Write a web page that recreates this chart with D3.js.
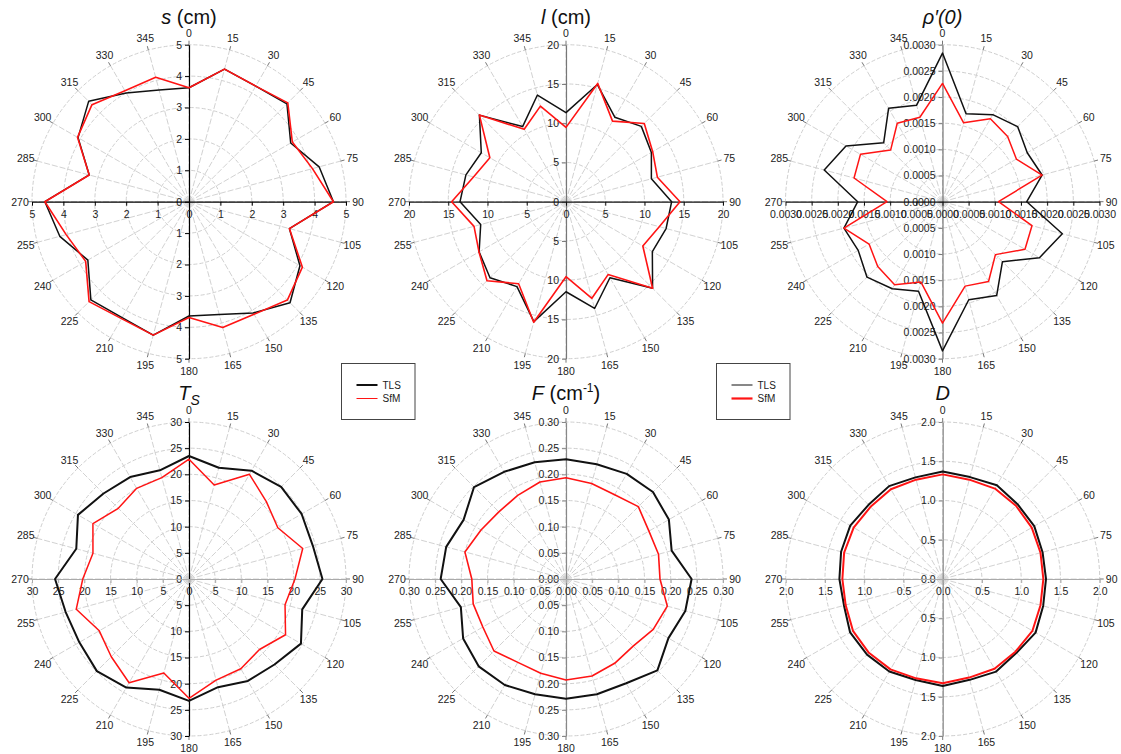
<!DOCTYPE html>
<html>
<head>
<meta charset="utf-8">
<script src="https://cdnjs.cloudflare.com/ajax/libs/d3/7.8.5/d3.min.js"></script>
<style>
  html, body { margin: 0; padding: 0; background: #fff; }
  svg { display: block; font-family: "Liberation Sans", Arial, sans-serif; }
</style>
</head>
<body>
<svg id="chart" width="1121" height="754"></svg>
<script>
// Azimuth of each measurement (degrees, clockwise from north)
const angles = [0, 15, 30, 45, 60, 75, 90, 105, 120, 135, 150, 165,
                180, 195, 210, 225, 240, 255, 270, 285, 300, 315, 330, 345];

// s (cm)
const sTLS = [3.63, 4.37, 4.25, 4.41, 3.74, 4.29, 4.6, 3.31, 4.08, 4.55, 4.09, 3.72,
              3.64, 4.4, 4.26, 4.42, 3.72, 4.26, 4.59, 3.29, 4.08, 4.52, 4.0, 3.68];
const sSfM = [3.63, 4.37, 4.25, 4.45, 3.8, 4.07, 4.6, 3.31, 4.17, 4.43, 4.14, 4.15,
              3.69, 4.4, 4.3, 4.5, 3.8, 4.05, 4.59, 3.29, 4.1, 4.37, 4.08, 4.1];
const sTicks = [0, 1, 2, 3, 4, 5];

// l (cm)
const lTLS = [11.34, 15.45, 12.43, 13.57, 12.56, 11.26, 13.46, 13.2, 12.7, 15.6, 11.19, 14.08,
              11.47, 15.82, 12.49, 13.69, 12.78, 11.25, 13.5, 13.2, 12.46, 15.6, 11.05, 14.07];
const lSfM = [9.47, 15.6, 11.85, 14.1, 12.75, 12.05, 14.52, 12.3, 11.3, 15.6, 10.72, 12.74,
              9.55, 15.9, 12.07, 14.23, 12.8, 12.13, 14.57, 12.2, 11.2, 15.6, 10.65, 12.6];
const lTicks = [0, 5, 10, 15, 20];

// rho'(0)
const rhoTLS = [0.00284, 0.00174, 0.00192, 0.00203, 0.00187, 0.00197, 0.00161, 0.00237,
                0.00214, 0.00162, 0.00207, 0.00194, 0.00285, 0.00177, 0.00192, 0.00204,
                0.00186, 0.00195, 0.00162, 0.00234, 0.00213, 0.00159, 0.00206, 0.00191];
const rhoSfM = [0.00226, 0.00156, 0.00183, 0.00176, 0.00163, 0.00197, 0.00107, 0.00177,
                0.00182, 0.00143, 0.00176, 0.00167, 0.00232, 0.00159, 0.00183, 0.00175,
                0.00162, 0.00195, 0.00106, 0.00175, 0.00181, 0.0014, 0.00173, 0.00167];
const rhoTicks = [0, 0.0005, 0.001, 0.0015, 0.002, 0.0025, 0.003];

// T_S
const tsTLS = [23.5, 22.0, 23.9, 24.9, 24.85, 24.5, 25.5, 22.4, 24.7, 23.1, 22.5, 21.4,
               23.3, 21.9, 23.95, 24.9, 24.2, 24.4, 25.6, 22.3, 24.5, 23.1, 22.5, 21.5];
const tsSfM = [22.9, 18.6, 23.1, 20.9, 19.6, 22.5, 20.25, 19.0, 21.3, 19.05, 19.8, 20.0,
               22.8, 18.6, 22.9, 21.0, 19.8, 22.3, 20.3, 19.0, 21.2, 19.1, 20.0, 20.05];
const tsTicks = [0, 5, 10, 15, 20, 25, 30];

// F (cm^-1)
const fTLS = [0.229, 0.227, 0.232, 0.235, 0.227, 0.209, 0.240, 0.236, 0.226, 0.247, 0.230, 0.228,
              0.229, 0.228, 0.234, 0.236, 0.227, 0.208, 0.2395, 0.237, 0.226, 0.2485, 0.2365, 0.231];
const fSfM = [0.1936, 0.189, 0.186, 0.1955, 0.183, 0.183, 0.1796, 0.2004, 0.1925, 0.1815, 0.186, 0.192,
              0.193, 0.1866, 0.184, 0.1946, 0.1835, 0.1836, 0.180, 0.200, 0.1875, 0.1815, 0.1845, 0.192];
const fTicks = [0, 0.05, 0.1, 0.15, 0.2, 0.25, 0.3];

// D
const dTLS = [1.37, 1.344, 1.38, 1.348, 1.347, 1.317, 1.316, 1.325, 1.366, 1.33, 1.362, 1.33,
              1.363, 1.332, 1.36, 1.363, 1.362, 1.302, 1.316, 1.34, 1.36, 1.336, 1.366, 1.34];
const dSfM = [1.333, 1.31, 1.33, 1.32, 1.31, 1.29, 1.282, 1.29, 1.32, 1.31, 1.32, 1.30,
              1.329, 1.31, 1.33, 1.33, 1.32, 1.28, 1.278, 1.30, 1.31, 1.30, 1.32, 1.31];
const dTicks = [0, 0.5, 1, 1.5, 2];

const seriesNames = ["TLS", "SfM"];

const svg = d3.select("#chart");
const R = 157;
const TXT = "#222";

const panels = [
  { cx: 189,   cy: 201.7, ticks: sTicks,   fmt: d3.format("d"),   tls: sTLS,   sfm: sSfM,   title: "s",   wT: 1.5, wS: 1.6, vC: "#000", hC: "#000" },
  { cx: 566,   cy: 201.7, ticks: lTicks,   fmt: d3.format("d"),   tls: lTLS,   sfm: lSfM,   title: "l",   wT: 1.5, wS: 1.6, vC: "#777", hC: "#111" },
  { cx: 942.5, cy: 201.7, ticks: rhoTicks, fmt: d3.format(".4f"), tls: rhoTLS, sfm: rhoSfM, title: "rho", wT: 1.5, wS: 1.5, vC: "#777", hC: "#111" },
  { cx: 189,   cy: 579,   ticks: tsTicks,  fmt: d3.format("d"),   tls: tsTLS,  sfm: tsSfM,  title: "ts",  wT: 2,   wS: 1.5, vC: "#000", hC: "#aaa" },
  { cx: 566,   cy: 579,   ticks: fTicks,   fmt: d3.format(".2f"), tls: fTLS,   sfm: fSfM,   title: "F",   wT: 2,   wS: 1.6, vC: "#888", hC: "#aaa" },
  { cx: 942.7, cy: 579,   ticks: dTicks,   fmt: d3.format(".1f"), tls: dTLS,   sfm: dSfM,   title: "D",   wT: 2,   wS: 2,   vC: "#888", hC: "#aaa" }
];

panels.forEach(p => {
  const max = d3.max(p.ticks);
  const r = d3.scaleLinear().domain([0, max]).range([0, R]);
  const g = svg.append("g").attr("transform", `translate(${p.cx},${p.cy})`);

  // concentric rings
  g.selectAll("circle.ring").data(p.ticks.filter(t => t > 0)).join("circle")
    .attr("r", d => r(d)).attr("fill", "none")
    .attr("stroke", "#cfcfcf").attr("stroke-width", 1).attr("stroke-dasharray", "4,2");

  // radial spokes with a short tick past the outer ring
  const rad = a => a * Math.PI / 180;
  g.selectAll("line.spoke").data(angles).join("line")
    .attr("x1", 0).attr("y1", 0)
    .attr("x2", a => Math.sin(rad(a)) * R).attr("y2", a => -Math.cos(rad(a)) * R)
    .attr("stroke", "#d2d2d2").attr("stroke-width", 1).attr("stroke-dasharray", "6,2");
  g.selectAll("line.otick").data(angles).join("line")
    .attr("x1", a => Math.sin(rad(a)) * R).attr("y1", a => -Math.cos(rad(a)) * R)
    .attr("x2", a => Math.sin(rad(a)) * (R + 4)).attr("y2", a => -Math.cos(rad(a)) * (R + 4))
    .attr("stroke", "#777").attr("stroke-width", 1);

  // azimuth labels
  g.selectAll("text.ang").data(angles).join("text")
    .attr("x", a => Math.sin(rad(a)) * 169).attr("y", a => -Math.cos(rad(a)) * 169)
    .attr("text-anchor", "middle").attr("dominant-baseline", "central")
    .attr("font-size", 10.5).attr("fill", TXT).text(a => a);

  // axes through the centre: magnitudes on both sides of the origin
  const up = d3.scaleLinear().domain([0, max]).range([0, -R]);
  const down = d3.scaleLinear().domain([0, max]).range([0, R]);
  const left = d3.scaleLinear().domain([0, max]).range([0, -R]);
  const right = d3.scaleLinear().domain([0, max]).range([0, R]);

  const styleAxis = (sel, col) => {
    sel.select(".domain").attr("stroke", col).attr("stroke-width", 1.2);
    sel.selectAll(".tick line").attr("stroke", col);
    sel.selectAll(".tick text").attr("fill", TXT).attr("font-size", 10.5)
      .attr("font-family", "Liberation Sans, Arial, sans-serif");
  };

  g.append("g").call(d3.axisLeft(up).tickValues(p.ticks).tickFormat(p.fmt).tickSize(4).tickSizeOuter(0).tickPadding(3))
    .call(s => styleAxis(s, p.vC));
  g.append("g").call(d3.axisLeft(down).tickValues(p.ticks.filter(t => t > 0)).tickFormat(p.fmt).tickSize(4).tickSizeOuter(0).tickPadding(3))
    .call(s => styleAxis(s, p.vC));
  g.append("g").call(d3.axisBottom(left).tickValues(p.ticks.filter(t => t > 0)).tickFormat(p.fmt).tickSize(4).tickSizeOuter(0).tickPadding(5))
    .call(s => styleAxis(s, p.hC));
  g.append("g").call(d3.axisBottom(right).tickValues(p.ticks).tickFormat(p.fmt).tickSize(4).tickSizeOuter(0).tickPadding(5))
    .call(s => styleAxis(s, p.hC));

  // data outlines
  const line = d3.lineRadial()
    .angle((d, i) => rad(angles[i]))
    .radius(d => r(d))
    .curve(d3.curveLinearClosed);
  g.append("path").attr("d", line(p.tls)).attr("fill", "none")
    .attr("stroke", "#111").attr("stroke-width", p.wT).attr("stroke-linejoin", "round");
  g.append("path").attr("d", line(p.sfm)).attr("fill", "none")
    .attr("stroke", "#ff1414").attr("stroke-width", p.wS).attr("stroke-linejoin", "round");

  // panel title
  const ty = p.cy < 300 ? 23.5 : 400;
  const t = svg.append("text").attr("x", p.cx).attr("y", ty)
    .attr("text-anchor", "middle").attr("font-size", 20).attr("fill", "#111");
  if (p.title === "s" || p.title === "l") {
    t.append("tspan").attr("font-style", "italic").text(p.title);
    t.append("tspan").text(" (cm)");
  } else if (p.title === "rho") {
    t.append("tspan").attr("font-style", "italic").text("ρ′(0)");
  } else if (p.title === "ts") {
    t.append("tspan").attr("font-style", "italic").text("T");
    t.append("tspan").attr("font-style", "italic").attr("font-size", 14).attr("dy", 5).text("S");
  } else if (p.title === "F") {
    t.append("tspan").attr("font-style", "italic").text("F");
    t.append("tspan").text(" (cm");
    t.append("tspan").attr("font-size", 12).attr("dy", -8).text("-1");
    t.append("tspan").attr("dy", 8).text(")");
  } else {
    t.append("tspan").attr("font-style", "italic").text("D");
  }
});

// legends
const legends = [
  { x: 341.5, y: 363.5, w: 73.5, h: 56, wT: 2, wS: 1 },
  { x: 716.5, y: 363.5, w: 73.5, h: 56, wT: 1, wS: 2.2 }
];
legends.forEach(L => {
  const g = svg.append("g").attr("transform", `translate(${L.x},${L.y})`);
  g.append("rect").attr("width", L.w).attr("height", L.h)
    .attr("fill", "#fff").attr("stroke", "#444").attr("stroke-width", 1);
  seriesNames.forEach((name, i) => {
    const yy = 21.5 + i * 13.5;
    g.append("line").attr("x1", 15).attr("x2", 36).attr("y1", yy).attr("y2", yy)
      .attr("stroke", i === 0 ? "#111" : "#ff1414").attr("stroke-width", i === 0 ? L.wT : L.wS);
    g.append("text").attr("x", 41).attr("y", yy).attr("dominant-baseline", "central")
      .attr("font-size", 10).attr("fill", TXT).text(name);
  });
});
</script>
</body>
</html>
